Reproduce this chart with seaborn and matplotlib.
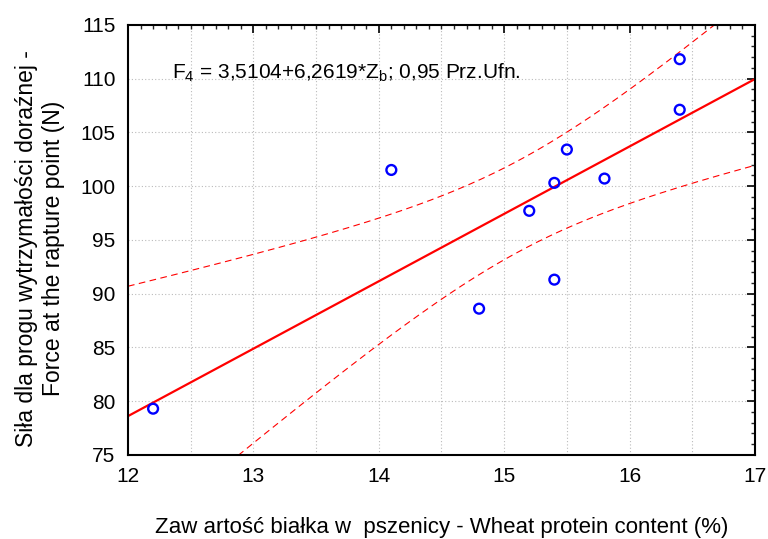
import numpy as np
import pandas as pd
import matplotlib
matplotlib.use("Agg")
import matplotlib.pyplot as plt
import seaborn as sns
from matplotlib.ticker import MultipleLocator

# Data
protein = [12.2, 14.1, 14.8, 15.2, 15.4, 15.4, 15.5, 15.8, 16.4, 16.4]
force = [79.3, 101.5, 88.6, 97.7, 100.3, 91.3, 103.4, 100.7, 107.1, 111.8]
x_ticks = [12, 13, 14, 15, 16, 17]
y_ticks = [75, 80, 85, 90, 95, 100, 105, 110, 115]
equation = r"F$_{4}$ = 3,5104+6,2619*Z$_{\mathrm{b}}$; 0,95 Prz.Ufn."
xlabel = "Zaw artość białka w  pszenicy - Wheat protein content (%)"
ylabel = "Siła dla progu wytrzymałości doraźnej -\nForce at the rapture point (N)"

df = pd.DataFrame({"x": protein, "y": force})

sns.set_theme(style="white")
plt.rcParams["font.family"] = ["Liberation Sans", "DejaVu Sans"]
plt.rcParams["text.color"] = "black"
plt.rcParams["axes.labelcolor"] = "black"
plt.rcParams["mathtext.fontset"] = "custom"
plt.rcParams["mathtext.rm"] = "Liberation Sans"
plt.rcParams["mathtext.it"] = "Liberation Sans:italic"
plt.rcParams["mathtext.bf"] = "Liberation Sans:bold"

fig = plt.figure(figsize=(7.68, 5.39), dpi=100)
ax = fig.add_axes([0.1667, 0.156, 0.8163, 0.798])
ax.set_xlim(12, 17)
ax.set_ylim(75, 115)

# Regression line
sns.regplot(data=df, x="x", y="y", ax=ax, scatter=False, ci=None, truncate=False,
            line_kws=dict(color="red", lw=1.6))

# 95% confidence band from the data
xv = np.asarray(protein)
yv = np.asarray(force)
n = len(xv)
b, a = np.polyfit(xv, yv, 1)
resid = yv - (a + b * xv)
s = np.sqrt(np.sum(resid ** 2) / (n - 2))
sxx = np.sum((xv - xv.mean()) ** 2)
t = 2.306  # t(0.975, 8)
xg = np.linspace(12, 17, 200)
yhat = a + b * xg
hw = t * s * np.sqrt(1 / n + (xg - xv.mean()) ** 2 / sxx)
for yy in (yhat + hw, yhat - hw):
    ax.plot(xg, yy, color="red", lw=0.8, ls=(0, (6, 4)))

# Points
sns.scatterplot(data=df, x="x", y="y", ax=ax, marker="o", s=50,
                facecolor="none", edgecolor="blue", linewidth=1.7, zorder=5)

ax.set_xlim(12, 17)
ax.set_ylim(75, 115)
ax.set_xticks(x_ticks)
ax.set_yticks(y_ticks)
ax.xaxis.set_minor_locator(MultipleLocator(0.1))
ax.yaxis.set_minor_locator(MultipleLocator(1))

# grid: x every 0.5, y every 5
for gx in np.arange(12.5, 17, 0.5):
    ax.axvline(gx, color="#bbbbbb", lw=0.8, ls=(0, (1, 2)), zorder=0)
for gy in y_ticks[1:-1]:
    ax.axhline(gy, color="#bbbbbb", lw=0.8, ls=(0, (1, 2)), zorder=0)

ax.tick_params(which="major", direction="in", length=6, width=1.2,
               top=True, right=True, labelsize=15, colors="black", pad=9)
ax.tick_params(which="minor", direction="in", length=3, width=1.0,
               top=True, right=True)
for sp in ax.spines.values():
    sp.set_color("black")
    sp.set_linewidth(1.5)

ax.set_xlabel(xlabel, fontsize=16, labelpad=22)
ax.set_ylabel(ylabel, fontsize=16.5, labelpad=11, linespacing=1.25)
ax.yaxis.label.set_y(0.48)

ax.text(12.35, 110.5, equation, fontsize=15, va="center", ha="left")

fig.savefig("out.png", dpi=100)
